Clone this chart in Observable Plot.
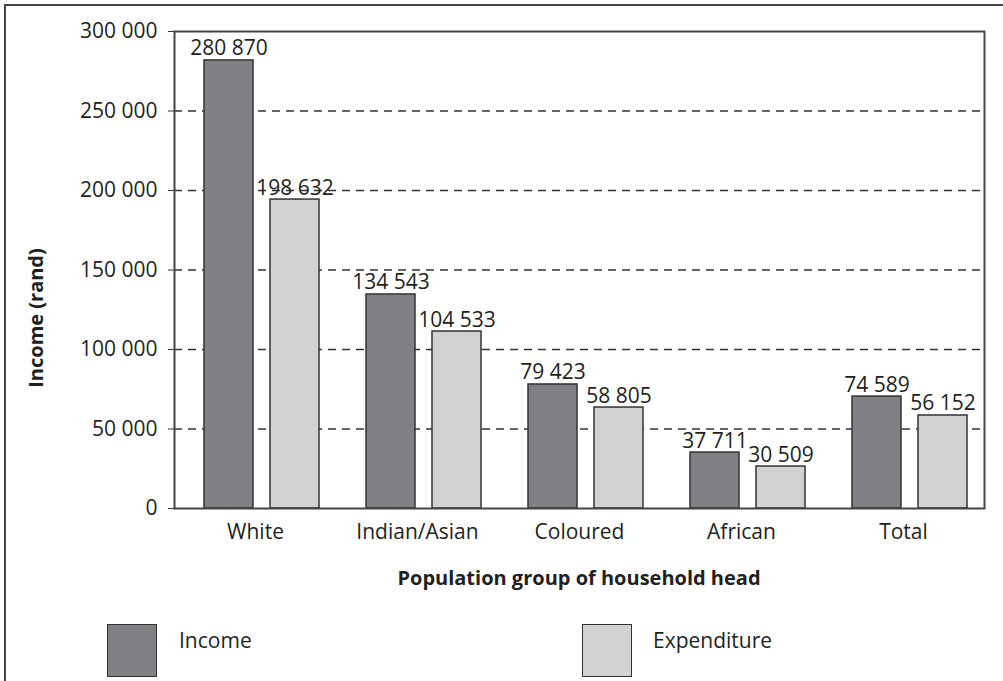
<!DOCTYPE html>
<html>
<head>
<meta charset="utf-8">
<script src="https://cdn.jsdelivr.net/npm/d3@7"></script>
<script src="https://cdn.jsdelivr.net/npm/@observablehq/plot@0.6"></script>
<style>
  html, body { margin: 0; padding: 0; background: #fff; }
  #wrap { position: relative; width: 1003px; height: 681px; overflow: hidden; background: #fff;
          font-family: "Open Sans", "Noto Sans", sans-serif; color: #231f20; }
  #border { position: absolute; left: 4px; top: 4px; right: -10px; bottom: -10px;
            border-left: 2px solid #444; border-top: 2px solid #444; }
  #chart { position: absolute; left: 0; top: 0; }
  .title { position: absolute; font-weight: 700; font-size: 20px; white-space: nowrap; }
  #ytitle { left: 35px; top: 318px; transform: translate(-50%, -50%) rotate(-90deg); }
  #xtitle { left: 579px; top: 577px; transform: translate(-50%, -50%); }
  .sw { position: absolute; top: 624px; width: 48px; height: 51px; border: 1.5px solid #333; }
  .lt { position: absolute; top: 640px; transform: translateY(-50%); font-size: 21px; white-space: nowrap; }
</style>
</head>
<body>
<div id="wrap">
  <div id="border"></div>
  <div id="chart"></div>
  <div class="title" id="ytitle">Income (rand)</div>
  <div class="title" id="xtitle">Population group of household head</div>
  <div class="sw" style="left:107px;background:#808184"></div>
  <div class="lt" style="left:179px">Income</div>
  <div class="sw" style="left:582px;background:#d1d2d4"></div>
  <div class="lt" style="left:653px">Expenditure</div>
</div>
<script>
const groups = ["White", "Indian/Asian", "Coloured", "African", "Total"];
// bar heights as drawn in the picture
const incomeBars = [281800, 134600, 78000, 35200, 70400];
const expenditureBars = [194300, 111300, 63500, 26400, 58500];
// value labels printed above the bars
const incomeLabels = ["280 870", "134 543", "79 423", "37 711", "74 589"];
const expenditureLabels = ["198 632", "104 533", "58 805", "30 509", "56 152"];
const yTicks = [0, 50000, 100000, 150000, 200000, 250000, 300000];
const gridTicks = [50000, 100000, 150000, 200000, 250000];

const income = groups.map((g, i) => ({group: g, value: incomeBars[i], label: incomeLabels[i]}));
const expenditure = groups.map((g, i) => ({group: g, value: expenditureBars[i], label: expenditureLabels[i]}));

const fmt = d => d3.format(",")(d).replace(/,/g, " ");

const chart = Plot.plot({
  width: 1003,
  height: 600,
  marginLeft: 174,
  marginRight: 19,
  marginTop: 31,
  marginBottom: 92,
  style: {fontFamily: "'Open Sans', 'Noto Sans', sans-serif", fontSize: "21px", color: "#231f20", background: "transparent"},
  x: {domain: groups, padding: 0, label: null},
  y: {domain: [0, 300000], label: null},
  marks: [
    Plot.gridY(gridTicks, {stroke: "#333", strokeOpacity: 1, strokeWidth: 1.3, strokeDasharray: "8,6"}),
    Plot.barY(income, {x: "group", y: "value", fill: "#808184", stroke: "#333", strokeWidth: 1.5, insetLeft: 30, insetRight: 83}),
    Plot.barY(expenditure, {x: "group", y: "value", fill: "#d1d2d4", stroke: "#333", strokeWidth: 1.5, insetLeft: 96, insetRight: 17}),
    Plot.text(income, {x: "group", y: "value", text: "label", dx: -26.5, dy: -5, lineAnchor: "bottom", fontSize: 21, fill: "#231f20"}),
    Plot.text(expenditure, {x: "group", y: "value", text: "label", dx: 39.5, dy: -5, lineAnchor: "bottom", fontSize: 21, fill: "#231f20"}),
    Plot.axisY({ticks: yTicks, tickFormat: fmt, tickSize: 6, tickPadding: 11, fontSize: 21, label: null, stroke: "#333"}),
    Plot.axisX({tickSize: 0, tickPadding: 16, fontSize: 21, label: null}),
    Plot.frame({stroke: "#444", strokeWidth: 2})
  ]
});
document.getElementById("chart").appendChild(chart);
</script>
</body>
</html>
